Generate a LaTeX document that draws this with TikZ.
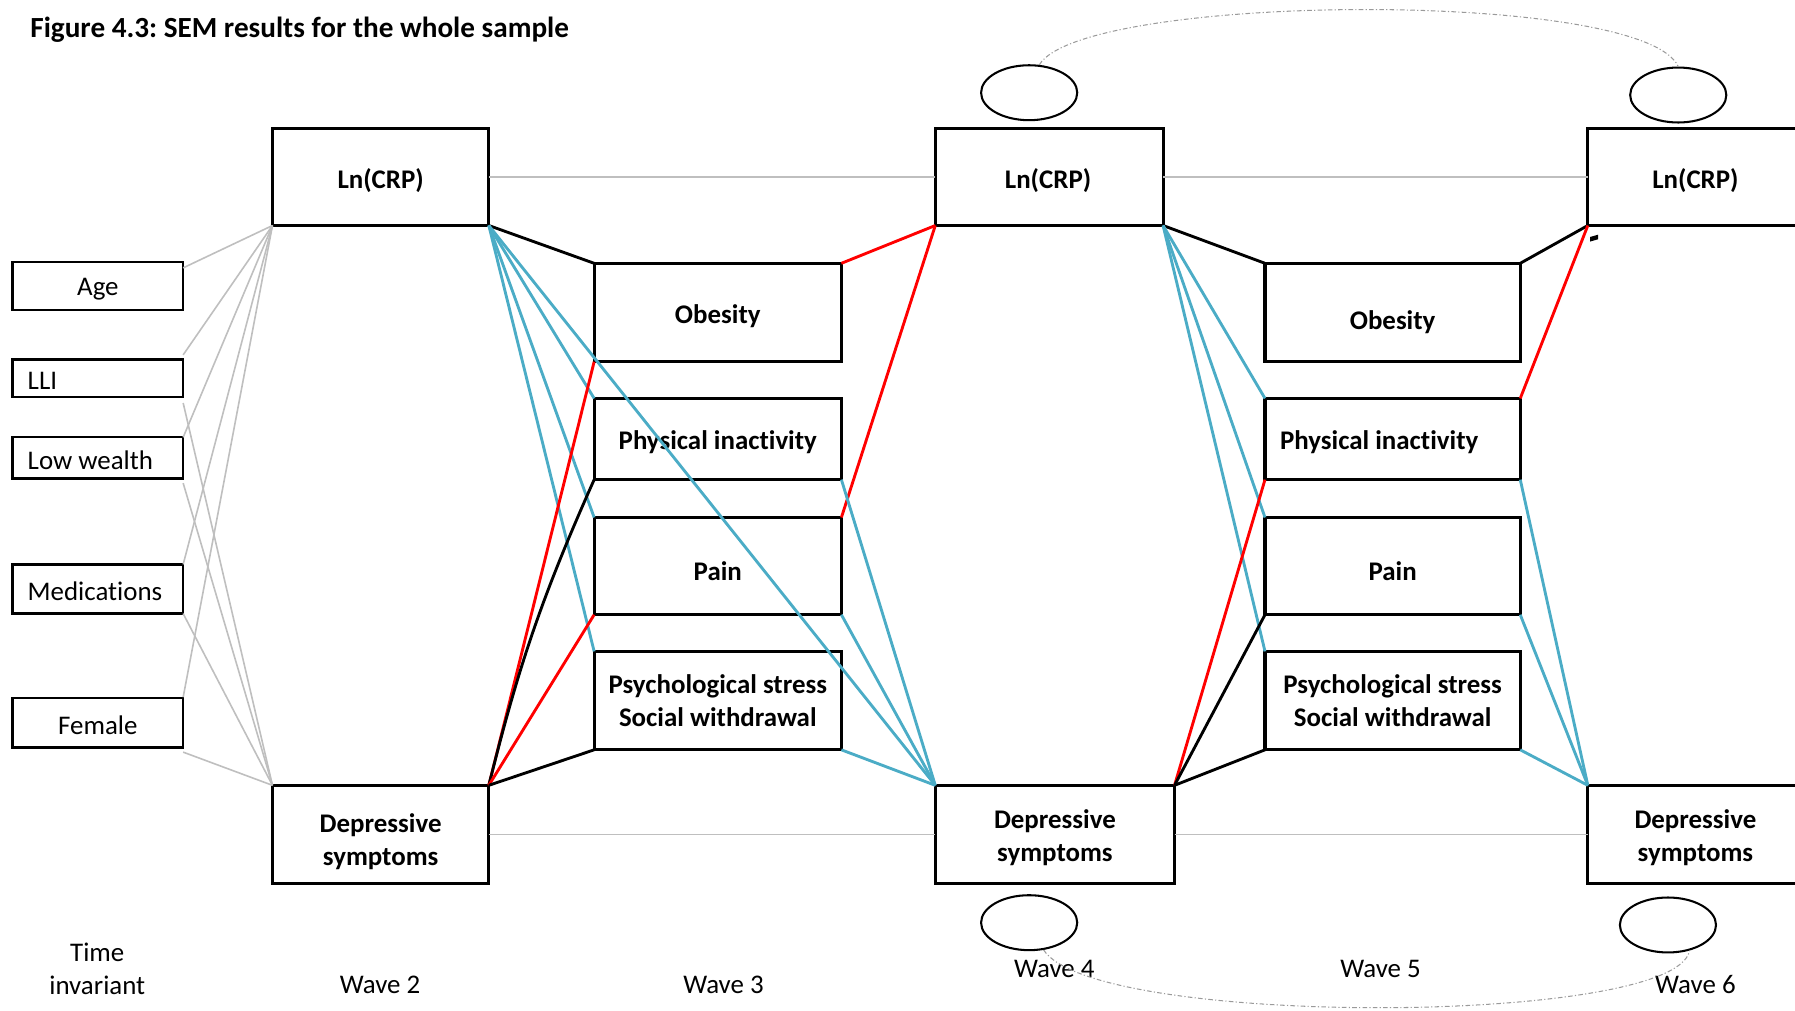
\documentclass[tikz,border=0pt]{standalone}
\usepackage{fontspec}
\setmainfont{Carlito}[Ligatures=NoCommon]
\usetikzlibrary{shapes.geometric}
\definecolor{linkblue}{HTML}{4BACC6}
\definecolor{linkred}{HTML}{FF0000}
\definecolor{linkgray}{HTML}{BFBFBF}
\definecolor{arcgray}{HTML}{9A9A9A}
\frenchspacing
\begin{document}
\begin{tikzpicture}[x=1pt,y=-1pt,
  varbox/.style={draw, line width=2.8pt, outer sep=0pt, inner sep=0pt, anchor=north west},
  vt/.style={font=\fontsize{23.5}{29}\selectfont\bfseries, align=center, inner sep=0pt},
  covbox/.style={draw, line width=2pt, outer sep=0pt, inner sep=0pt, anchor=north west,
    minimum width=149pt},
  ct/.style={font=\fontsize{23.5}{28}\selectfont, inner sep=0pt},
  ctl/.style={ct, anchor=west, xshift=13pt},
  err/.style={ellipse, draw, line width=1.8pt, minimum width=84pt, minimum height=48pt, inner sep=0pt},
  lbl/.style={font=\fontsize{23.5}{29}\selectfont, align=center},
  covline/.style={linkgray, line width=1.4pt},
  blk/.style={black, line width=2.5pt},
  redl/.style={linkred, line width=2.5pt},
  blu/.style={linkblue, line width=2.5pt},
  errcov/.style={arcgray, line width=0.9pt, dash pattern=on 4pt off 2pt on 1pt off 2pt}]
\useasboundingbox (0,0) rectangle (1568,883);
\clip (0,0) rectangle (1568,883);

% title
\node[anchor=west, font=\fontsize{25.5}{30}\selectfont\bfseries] (title) at (23,26)
  {Figure 4.3: SEM results for the whole sample};

% time-invariant covariates
\node[covbox, minimum height=42pt, label={[ct, yshift=-3pt]center:Age}] (age) at (11,229) {};
\node[covbox, minimum height=33pt, label={[ctl, yshift=-2pt]west:LLI}] (lli) at (11,314) {};
\node[covbox, minimum height=36pt, label={[ctl, yshift=-2pt]west:Low wealth}] (wealth) at (11,382) {};
\node[covbox, minimum height=43pt, label={[ctl, yshift=-2pt]west:Medications}] (meds) at (11,493) {};
\node[covbox, minimum height=43pt, label={[ct, yshift=-2pt]center:Female}] (female) at (11,610) {};

% CRP and depressive symptoms at waves 2, 4, 6
\node[varbox, minimum width=189pt, minimum height=85pt, label={[vt, yshift=-3pt]center:Ln(CRP)}] (ln2) at (238,112) {};
\node[varbox, minimum width=199pt, minimum height=85pt, label={[vt, yshift=-3pt, xshift=-1pt]center:Ln(CRP)}] (ln4) at (817,112) {};
\node[varbox, minimum width=188pt, minimum height=85pt, label={[vt, yshift=-3pt]center:Ln(CRP)}] (ln6) at (1387,112) {};
\node[varbox, minimum width=189pt, minimum height=86pt, label={[vt, yshift=-6pt]center:Depressive\\symptoms}] (dep2) at (238,686) {};
\node[varbox, minimum width=209pt, minimum height=86pt, label={[vt, yshift=-3pt]center:Depressive\\symptoms}] (dep4) at (817,686) {};
\node[varbox, minimum width=188pt, minimum height=86pt, label={[vt, yshift=-3pt]center:Depressive\\symptoms}] (dep6) at (1387,686) {};

% mediators at wave 3
\node[varbox, minimum width=216pt, minimum height=86pt, label={[vt, yshift=-3pt]center:Obesity}] (ob3) at (519,230) {};
\node[varbox, minimum width=216pt, minimum height=71pt, label={[vt, yshift=-3pt]center:Physical inactivity}] (pa3) at (519,348) {};
\node[varbox, minimum width=216pt, minimum height=85pt, label={[vt, yshift=-4pt]center:Pain}] (pn3) at (519,452) {};
\node[varbox, minimum width=216pt, minimum height=86pt, label={[vt]center:Psychological stress\\Social withdrawal}] (ps3) at (519,569) {};

% mediators at wave 5
\node[varbox, minimum width=223pt, minimum height=86pt, label={[vt, yshift=-8pt]center:Obesity}] (ob5) at (1105,230) {};
\node[varbox, minimum width=223pt, minimum height=71pt, label={[vt, anchor=west, xshift=13pt, yshift=-3pt]west:Physical inactivity}] (pa5) at (1105,348) {};
\node[varbox, minimum width=223pt, minimum height=85pt, label={[vt, yshift=-4pt]center:Pain}] (pn5) at (1105,452) {};
\node[varbox, minimum width=223pt, minimum height=86pt, label={[vt]center:Psychological stress\\Social withdrawal}] (ps5) at (1105,569) {};

% error terms
\node[err] (e4t) at (899,81) {};
\node[err] (e6t) at (1466,83) {};
\node[err] (e4b) at (899,806) {};
\node[err] (e6b) at (1457,808) {};

% wave labels
\node[lbl] (ti) at (85,846) {Time\\invariant};
\node[lbl] (w2) at (332,860) {Wave 2};
\node[lbl] (w3) at (632,860) {Wave 3};
\node[lbl] (w4) at (921,846) {Wave 4};
\node[lbl] (w5) at (1206,846) {Wave 5};
\node[lbl] (w6) at (1481,860) {Wave 6};

% stability paths
\draw[covline] (ln2.east) -- (ln4.west);
\draw[covline] (ln4.east) -- (ln6.west);
\draw[covline] (dep2.east) -- (dep4.west);
\draw[covline] (dep4.east) -- (dep6.west);

% covariate paths
\draw[covline] ([yshift=-5pt]age.north east) -- (ln2.south west);
\draw[covline] ([yshift=4pt]lli.north east) -- (ln2.south west);
\draw[covline] (wealth.north east) -- (ln2.south west);
\draw[covline] (meds.north east) -- (ln2.south west);
\draw[covline] ([yshift=1pt]female.north east) -- (ln2.south west);
\draw[covline] ([yshift=-5pt]lli.south east) -- (dep2.north west);
\draw[covline] ([yshift=-4pt]wealth.south east) -- (dep2.north west);
\draw[covline] (meds.south east) -- (dep2.north west);
\draw[covline] ([yshift=-4pt]female.south east) -- (dep2.north west);

% wave 2 -> wave 3
\draw[blk] (ln2.south east) -- (ob3.north west);
\draw[blu] (ln2.south east) -- (pa3.north west);
\draw[blu] (ln2.south east) -- (pn3.north west);
\draw[blu] (ln2.south east) -- (ps3.north west);
\draw[blu] (ln2.south east) -- (dep4.north west);
\draw[redl] (dep2.north east) -- (ob3.south west);
\draw[blk] (dep2.north east) to[bend left=5] (pa3.south west);
\draw[redl] (dep2.north east) -- (pn3.south west);
\draw[blk] (dep2.north east) -- (ps3.south west);

% wave 3 -> wave 4
\draw[redl] (ob3.north east) -- (ln4.south west);
\draw[redl] (pn3.north east) -- (ln4.south west);
\draw[blu] (pa3.south east) -- (dep4.north west);
\draw[blu] (pn3.south east) -- (dep4.north west);
\draw[blu] (ps3.south east) -- (dep4.north west);

% wave 4 -> wave 5
\draw[blk] (ln4.south east) -- (ob5.north west);
\draw[blu] (ln4.south east) -- (pa5.north west);
\draw[blu] (ln4.south east) -- (pn5.north west);
\draw[blu] (ln4.south east) -- (ps5.north west);
\draw[redl] (dep4.north east) -- (pa5.south west);
\draw[blk] (dep4.north east) -- (pn5.south west);
\draw[blk] (dep4.north east) -- (ps5.south west);

% wave 5 -> wave 6
\draw[blk] (ob5.north east) -- (ln6.south west);
\draw[redl] (pa5.north east) -- (ln6.south west);
\draw[blu] (pa5.south east) -- (dep6.north west);
\draw[blu] (pn5.south east) -- (dep6.north west);
\draw[blu] (ps5.south east) -- (dep6.north west);
\fill[black] (1389,207) -- (1396,205) -- (1396,209) -- (1389,211) -- cycle;

% correlated errors
\draw[errcov] (e4t.70) .. controls (945,-6) and (1435,-10) .. (e6t.90);
\draw[errcov] (e4b.-62) .. controls (955,898) and (1465,896) .. (e6b.-50);
\end{tikzpicture}
\end{document}
